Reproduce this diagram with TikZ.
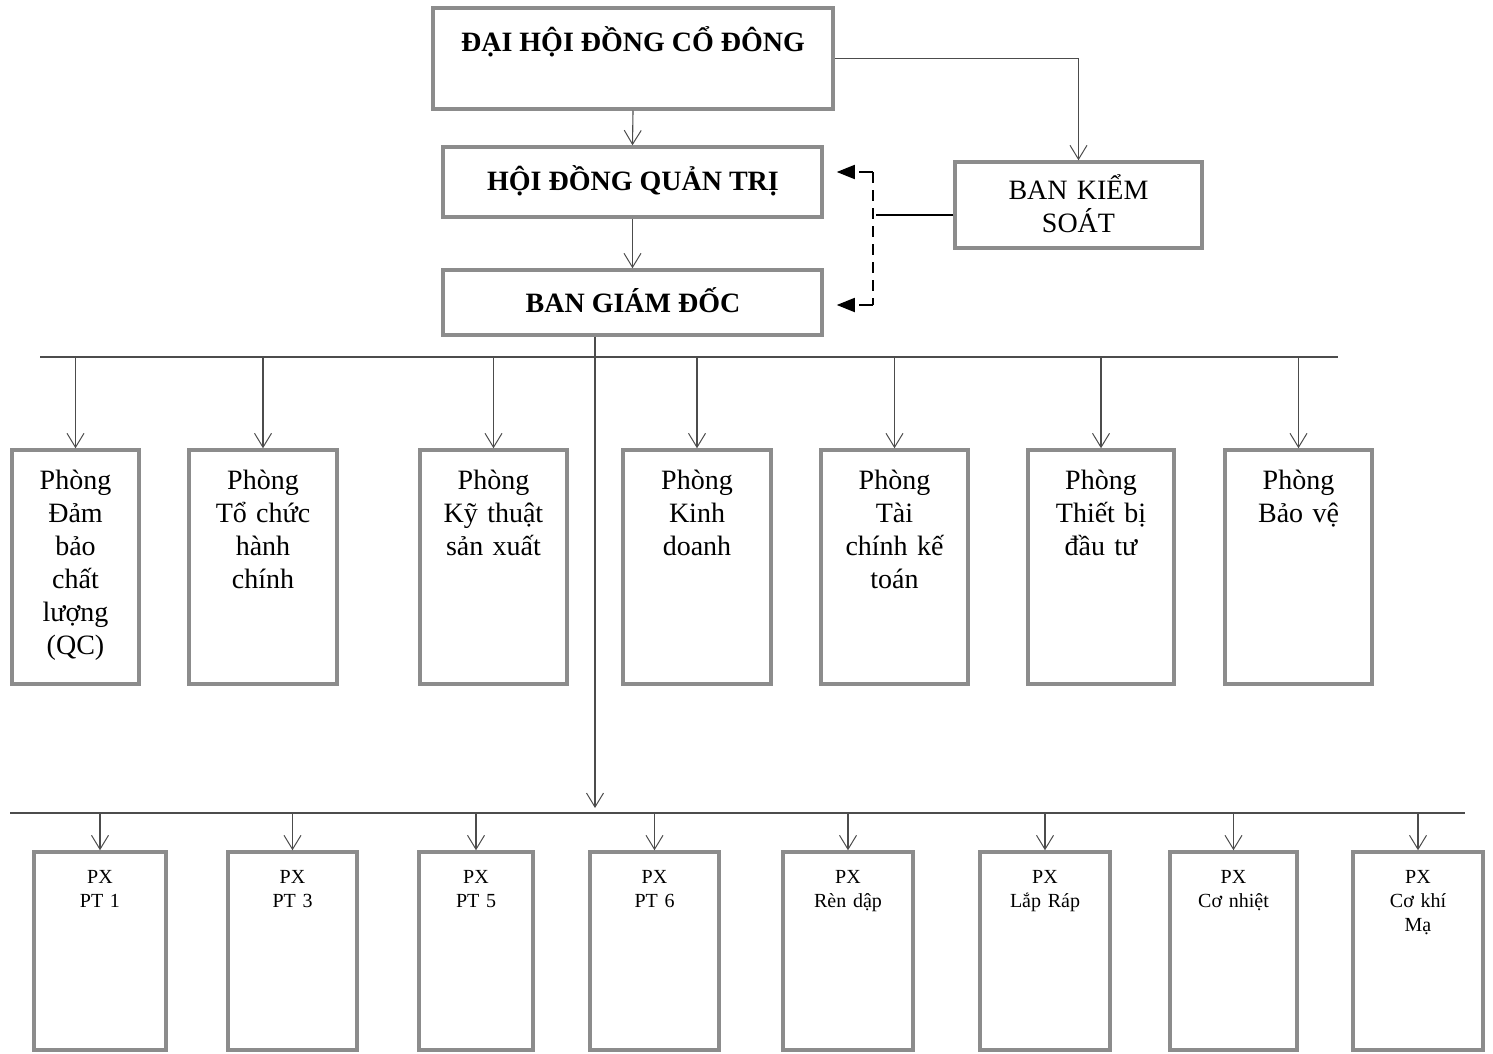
\documentclass[tikz,border=0pt]{standalone}
\usepackage{fontspec}
\setmainfont{Liberation Serif}
\usetikzlibrary{arrows.meta}

\tikzset{
  box/.style={draw=black!45, line width=3.5pt, inner sep=0pt},
  bigtext/.style={font=\fontsize{28}{33}\selectfont\bfseries, inner sep=0pt},
  ptext/.style={font=\fontsize{28}{33}\selectfont, inner sep=0pt, align=center,
    text width=150pt, text height=20pt},
  pxtext/.style={font=\fontsize{20}{24}\selectfont, inner sep=0pt, align=center,
    text width=120pt, text height=15pt},
  arr/.style={draw=black!70, line width=1.1pt,
    -{Straight Barb[length=14pt,width=17pt,line width=1pt]}},
  bus/.style={draw=black!70, line width=1.3pt},
  dline/.style={line width=1.8pt, dash pattern=on 11pt off 7pt},
  darr/.style={line width=1.8pt, dash pattern=on 14pt off 7pt,
    -{Triangle[length=18pt,width=14pt]}}
}

\begin{document}
\begin{tikzpicture}[x=1pt,y=-1pt]
 \useasboundingbox (0,0) rectangle (1493,1054);

 % top boxes
 \node[box, minimum width=400pt, minimum height=101pt] (dhd) at (633,58.5) {};
 \node[bigtext, anchor=base] (dhdt) at (633,52) {ĐẠI HỘI ĐỒNG CỔ ĐÔNG};
 \node[box, minimum width=379pt, minimum height=70pt] (hdqt) at (632.5,182) {};
 \node[bigtext, anchor=base] (hdqtt) at (633,190) {HỘI ĐỒNG QUẢN TRỊ};
 \node[box, minimum width=379pt, minimum height=65pt] (bgd) at (632.5,302.5) {};
 \node[bigtext, anchor=base] (bgdt) at (633,312) {BAN GIÁM ĐỐC};
 \node[box, minimum width=247pt, minimum height=86pt] (bks) at (1078.5,205) {};
 \node[ptext, anchor=north] (bkst) at ([yshift=-19pt]bks.north) {BAN KIỂM\\SOÁT};

 \draw[arr] (dhd.south) -- (hdqt.north);
 \draw[arr] (hdqt.south) -- (bgd.north);
 \draw[arr] (dhd.east) -| (bks.north);

 % kiem soat
 \coordinate (k1) at (873,172);
 \coordinate (k2) at (873,305);
 \coordinate (k3) at (876,215);
 \draw[dline] (k1) -- (k2);
 \draw[darr] (k1) -- ([xshift=13pt]k1 -| hdqt.east);
 \draw[darr] (k2) -- ([xshift=13pt]k2 -| bgd.east);
 \draw[line width=1.8pt] (bks.west |- k3) -- (k3);

 % phong ban
 \coordinate (b1l) at (40,357);
 \coordinate (b1r) at (1338,357);
 \draw[bus] (b1l) -- (b1r);

 \node[box, minimum width=127pt, minimum height=234pt] (p1) at (75.5,567) {};
 \node[box, minimum width=148pt, minimum height=234pt] (p2) at (263,567) {};
 \node[box, minimum width=147pt, minimum height=234pt] (p3) at (493.5,567) {};
 \node[box, minimum width=148pt, minimum height=234pt] (p4) at (697,567) {};
 \node[box, minimum width=147pt, minimum height=234pt] (p5) at (894.5,567) {};
 \node[box, minimum width=146pt, minimum height=234pt] (p6) at (1101,567) {};
 \node[box, minimum width=147pt, minimum height=234pt] (p7) at (1298.5,567) {};

 \node[ptext, anchor=north] (p1t) at ([yshift=-21pt]p1.north) {Phòng\\Đảm\\bảo\\chất\\lượng\\(QC)};
 \node[ptext, anchor=north] (p2t) at ([yshift=-21pt]p2.north) {Phòng\\Tổ chức\\hành\\chính};
 \node[ptext, anchor=north] (p3t) at ([yshift=-21pt]p3.north) {Phòng\\Kỹ thuật\\sản xuất};
 \node[ptext, anchor=north] (p4t) at ([yshift=-21pt]p4.north) {Phòng\\Kinh\\doanh};
 \node[ptext, anchor=north] (p5t) at ([yshift=-21pt]p5.north) {Phòng\\Tài\\chính kế\\toán};
 \node[ptext, anchor=north] (p6t) at ([yshift=-21pt]p6.north) {Phòng\\Thiết bị\\đầu tư};
 \node[ptext, anchor=north] (p7t) at ([yshift=-21pt]p7.north) {Phòng\\Bảo vệ};

 \draw[arr] (p1.north |- b1l) -- (p1.north);
 \draw[arr] (p2.north |- b1l) -- (p2.north);
 \draw[arr] (p3.north |- b1l) -- (p3.north);
 \draw[arr] (p4.north |- b1l) -- (p4.north);
 \draw[arr] (p5.north |- b1l) -- (p5.north);
 \draw[arr] (p6.north |- b1l) -- (p6.north);
 \draw[arr] (p7.north |- b1l) -- (p7.north);

 % phan xuong
 \coordinate (tr) at (595,808);
 \draw[arr] (bgd.south -| tr) -- (tr);
 \coordinate (b2l) at (10,813);
 \coordinate (b2r) at (1465,813);
 \draw[bus] (b2l) -- (b2r);

 \node[box, minimum width=132pt, minimum height=198pt] (x1) at (100,951) {};
 \node[box, minimum width=129pt, minimum height=198pt] (x2) at (292.5,951) {};
 \node[box, minimum width=114pt, minimum height=198pt] (x3) at (476,951) {};
 \node[box, minimum width=129pt, minimum height=198pt] (x4) at (654.5,951) {};
 \node[box, minimum width=130pt, minimum height=198pt] (x5) at (848,951) {};
 \node[box, minimum width=130pt, minimum height=198pt] (x6) at (1045,951) {};
 \node[box, minimum width=127pt, minimum height=198pt] (x7) at (1233.5,951) {};
 \node[box, minimum width=130pt, minimum height=198pt] (x8) at (1418,951) {};

 \node[pxtext, anchor=north] (x1t) at ([yshift=-18pt]x1.north) {PX\\PT 1};
 \node[pxtext, anchor=north] (x2t) at ([yshift=-18pt]x2.north) {PX\\PT 3};
 \node[pxtext, anchor=north] (x3t) at ([yshift=-18pt]x3.north) {PX\\PT 5};
 \node[pxtext, anchor=north] (x4t) at ([yshift=-18pt]x4.north) {PX\\PT 6};
 \node[pxtext, anchor=north] (x5t) at ([yshift=-18pt]x5.north) {PX\\Rèn dập};
 \node[pxtext, anchor=north] (x6t) at ([yshift=-18pt]x6.north) {PX\\Lắp Ráp};
 \node[pxtext, anchor=north] (x7t) at ([yshift=-18pt]x7.north) {PX\\Cơ nhiệt};
 \node[pxtext, anchor=north] (x8t) at ([yshift=-18pt]x8.north) {PX\\Cơ khí\\Mạ};

 \draw[arr] (x1.north |- b2l) -- (x1.north);
 \draw[arr] (x2.north |- b2l) -- (x2.north);
 \draw[arr] (x3.north |- b2l) -- (x3.north);
 \draw[arr] (x4.north |- b2l) -- (x4.north);
 \draw[arr] (x5.north |- b2l) -- (x5.north);
 \draw[arr] (x6.north |- b2l) -- (x6.north);
 \draw[arr] (x7.north |- b2l) -- (x7.north);
 \draw[arr] (x8.north |- b2l) -- (x8.north);
\end{tikzpicture}
\end{document}
